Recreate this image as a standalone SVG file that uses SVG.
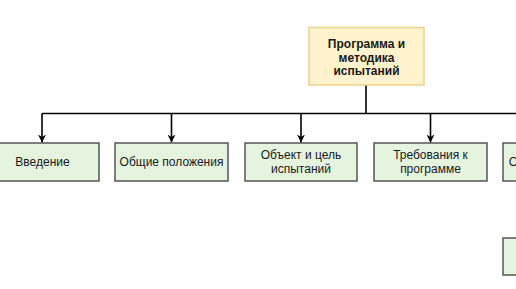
<svg xmlns="http://www.w3.org/2000/svg" width="516" height="289" viewBox="0 0 516 289">
<defs>
<marker id="arr" viewBox="0 0 10 10" refX="10" refY="5" markerWidth="5" markerHeight="5" orient="auto" markerUnits="strokeWidth">
<path d="M0,0 L10,5 L0,10 L3,5 Z" fill="#000"/>
</marker>
<style>
.g{fill:#e4f4de;stroke:#555;stroke-width:1.5}
.y{fill:#fff2cc;stroke:#e8d38a;stroke-width:1.5}
.t{font-family:"Liberation Sans",Arial,sans-serif;font-size:12px;fill:#1a1a1a;text-anchor:middle}
.b{font-weight:bold}
.c{fill:none;stroke:#000;stroke-width:1.6}
</style>
</defs>
<rect width="516" height="289" fill="#fff"/>
<g id="connectors">
<path class="c" d="M366,85 V113.5"/>
<path class="c" d="M42,113.5 H520"/>
<path class="c" d="M42,113.5 V142.5" marker-end="url(#arr)"/>
<path class="c" d="M171.5,113.5 V142.5" marker-end="url(#arr)"/>
<path class="c" d="M301,113.5 V142.5" marker-end="url(#arr)"/>
<path class="c" d="M430.5,113.5 V142.5" marker-end="url(#arr)"/>
</g>
<g id="root">
<rect class="y" x="309" y="27.5" width="115" height="57.5"/>
<text class="t b" x="366.5" y="48">Программа и</text>
<text class="t b" x="366.5" y="61.5">методика</text>
<text class="t b" x="366.5" y="75">испытаний</text>
</g>
<g id="n1">
<rect class="g" x="-14" y="143" width="113" height="38"/>
<text class="t" x="42.5" y="166">Введение</text>
</g>
<g id="n2">
<rect class="g" x="115" y="143" width="113" height="38"/>
<text class="t" x="171.5" y="166">Общие положения</text>
</g>
<g id="n3">
<rect class="g" x="245" y="143" width="112" height="38"/>
<text class="t" x="301" y="159">Объект и цель</text>
<text class="t" x="301" y="173">испытаний</text>
</g>
<g id="n4">
<rect class="g" x="374" y="143" width="113" height="38"/>
<text class="t" x="430.5" y="159">Требования к</text>
<text class="t" x="430.5" y="173">программе</text>
</g>
<g id="n5">
<rect class="g" x="503" y="143" width="113" height="38"/>
<text class="t" x="559.5" y="166">Объем испытаний</text>
</g>
<g id="n6">
<rect class="g" x="503" y="238" width="113" height="37"/>
</g>
</svg>
